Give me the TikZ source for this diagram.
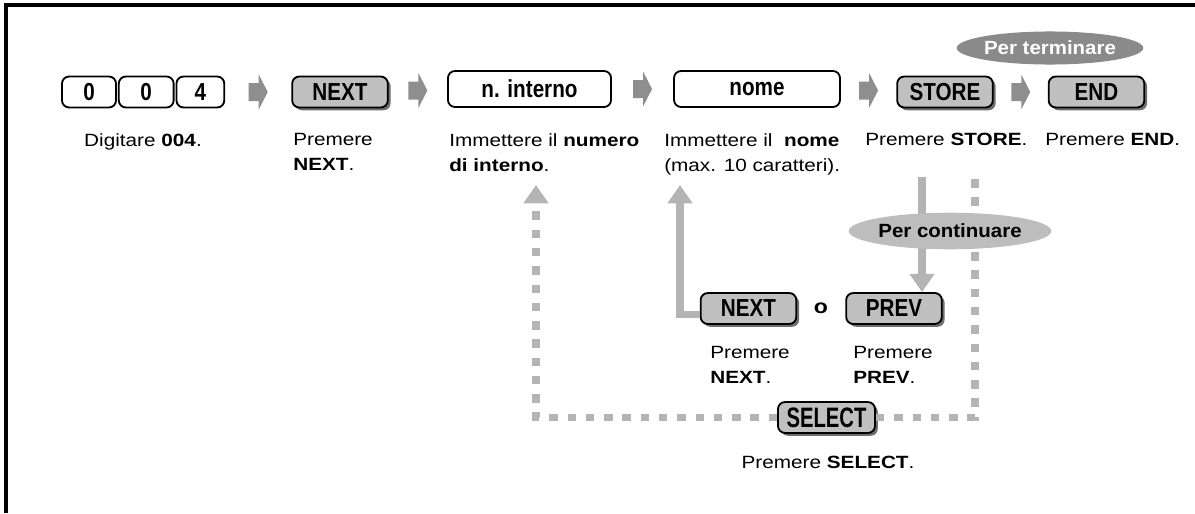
\documentclass[tikz,border=0pt]{standalone}
\usepackage{fontspec}
\setmainfont{Liberation Sans}
\newfontfamily\descfont[FakeStretch=1.17]{Liberation Sans}
\newfontfamily\tastofont[FakeStretch=0.84]{Liberation Sans}
\newfontfamily\selfont[FakeStretch=0.72]{Liberation Sans}
\newfontfamily\ovalfont[FakeStretch=1.07]{Liberation Sans}
\usetikzlibrary{arrows.meta,positioning,shapes.geometric,shadows}
\definecolor{grigio}{HTML}{C0C0C0}
\definecolor{grigioombra}{HTML}{6E6E6E}
\definecolor{grigiolinea}{HTML}{B4B4B4}
\definecolor{grigiofreccia}{HTML}{8E8E8E}
\definecolor{grigioovale}{HTML}{8A8A8A}
\definecolor{grigiochiaro}{HTML}{BDBDBD}
\tikzset{
  tasto/.style={draw=black,line width=1.3pt,rounded corners=5pt,fill=white,inner sep=0pt,
                minimum height=22pt,font=\tastofont\bfseries\fontsize{17.5}{20}\selectfont},
  pulsante/.style={tasto,fill=grigio,minimum width=68pt,
                drop shadow={shadow xshift=2pt,shadow yshift=-2pt,fill=grigioombra,opacity=1}},
  descr/.style={inner sep=0pt,align=left,anchor=north west,
                font=\descfont\fontsize{12.6}{17.8}\selectfont},
  linea/.style={line width=5pt,draw=grigiolinea,-{Triangle[length=13pt,width=17pt]}},
  tratteggio/.style={line width=5pt,draw=grigiolinea,dash pattern=on 6pt off 7pt},
  ovale/.style={ellipse,inner sep=0pt,font=\ovalfont\bfseries\fontsize{13.6}{15}\selectfont},
  freccia/.pic={\fill[grigiofreccia] (-9.5,-9)--(0.5,-9)--(0.5,-17.5)--(9.5,0)
                --(0.5,17.5)--(0.5,9)--(-9.5,9)--cycle;},
}
\begin{document}
\begin{tikzpicture}[x=0.025cm,y=-0.025cm]
  \useasboundingbox (0,0) rectangle (1195,513);
  \draw[line width=2.2pt] (6,513) -- (6,5) -- (1195,5);

  \node[tasto,minimum width=38.4pt] (k1) at (89,92) {0};
  \node[tasto,minimum width=39pt,right=0.7pt of k1] (k2) {0};
  \node[tasto,minimum width=34pt,right=0.7pt of k2] (k3) {4};
  \node[pulsante] (nxt) at (340,92) {NEXT};
  \node[tasto,minimum width=116pt,minimum height=25.6pt] (intr) at (529.5,89) {n. interno};
  \node[tasto,minimum width=118pt,minimum height=25.6pt] (nome) at (757,89) {nome};
  \node[pulsante] (sto) at (945,92) {STORE};
  \node[pulsante] (fine) at (1096.5,92) {END};
  \foreach \a/\b [count=\i] in {k3/nxt,nxt/intr,intr/nome,nome/sto,sto/fine} {
    \path (\a.east) -- coordinate[midway] (f\i) (\b.west);
    \pic at (f\i) {freccia};
  }

  \node[descr,anchor=north] (d1) at (143,133) {Digitare \textbf{004}.};
  \node[descr] (d2) at (293,133) {Premere\\\textbf{NEXT}.};
  \node[descr] (d3) at (449,133) {Immettere il \textbf{numero}\\\textbf{di interno}.};
  \node[descr] (d4) at (664,133) {Immettere il \ \textbf{nome}\\(max. 10 caratteri).};
  \node[descr] (d5) at (865,133) {Premere \textbf{STORE}.};
  \node[descr] (d6) at (1045,133) {Premere \textbf{END}.};

  \node[pulsante] (nx2) at (748.5,308.5) {NEXT};
  \node[pulsante] (prv) at (894,308.5) {PREV};
  \node[pulsante,minimum width=69pt,font=\selfont\bfseries\fontsize{20}{22}\selectfont] (sel) at (826.5,417.5) {SELECT};
  \node[font=\descfont\bfseries\fontsize{14}{16}\selectfont] (o) at (821,308) {o};

  \coordinate (t1) at (680,185);
  \coordinate (t2) at (536,185);
  \coordinate (c1) at (922,177);
  \coordinate (c2) at (975,177);
  \draw[linea] ([yshift=-4.5pt]nx2.west) -| (t1);
  \draw[tratteggio,-{Triangle[length=13pt,width=17pt]}] (sel.west) -| (t2);
  \draw[tratteggio] (sel.east) -| (c2);
  \draw[linea] (c1) -- (c1 |- prv.north);

  \node[ovale,fill=grigiochiaro,minimum width=121pt,minimum height=26pt] (cont) at (950,231) {Per continuare};
  \node[ovale,fill=grigioovale,text=white,minimum width=114pt,minimum height=23.5pt] (term) at (1050,48) {Per terminare};

  \node[descr] (d7) at (710,346) {Premere\\\textbf{NEXT}.};
  \node[descr] (d8) at (853,346) {Premere\\\textbf{PREV}.};
  \node[descr,anchor=north] (d9) at (828,456) {Premere \textbf{SELECT}.};
\end{tikzpicture}
\end{document}
